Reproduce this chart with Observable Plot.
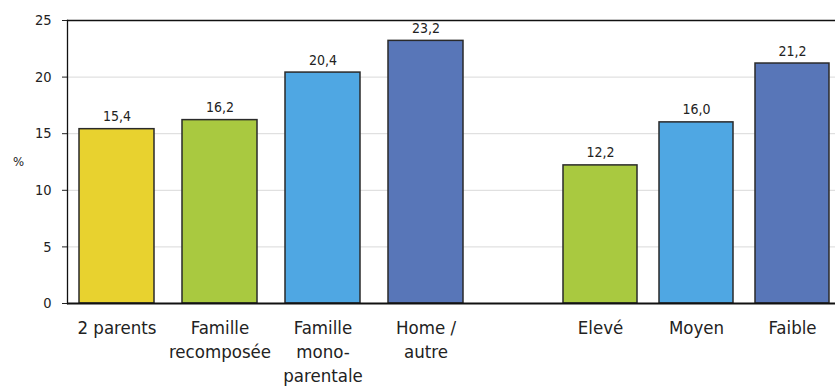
<!DOCTYPE html>
<html><head><meta charset="utf-8">
<script src="https://cdn.jsdelivr.net/npm/d3@7"></script>
<script src="https://cdn.jsdelivr.net/npm/@observablehq/plot@0.6"></script>
<style>
html,body{margin:0;padding:0;background:#fff;overflow:hidden}
#chart{display:flex;width:835px;height:389px}
#chart svg{display:block;flex:none;max-width:none}
</style></head><body><div id="chart"></div>
<script>
// Groupe 1 : type de famille
const familyCategories = ["2 parents", "Famille recomposée", "Famille monoparentale", "Home / autre"];
const familyLabels = ["2 parents", "Famille\nrecomposée", "Famille\nmono-\nparentale", "Home /\nautre"];
const familyValues = [15.4, 16.2, 20.4, 23.2];
const familyColors = ["#e8d22f", "#a9c940", "#4fa7e3", "#5876b8"];
// Groupe 2 : niveau
const levelCategories = ["Elevé", "Moyen", "Faible"];
const levelLabels = ["Elevé", "Moyen", "Faible"];
const levelValues = [12.2, 16.0, 21.2];
const levelColors = ["#a9c940", "#4fa7e3", "#5876b8"];
// Axe
const yTicks = [0, 5, 10, 15, 20, 25];
const gridTicks = [5, 10, 15, 20];
const yUnit = "%";

const FONT = "'DejaVu Sans Condensed', 'Liberation Sans Narrow', 'Roboto', sans-serif";
const fmt = v => d3.format(".1f")(v).replace(".", ",");

function panel({cats, labels, values, colors, width, marginLeft, paddingInner, paddingOuter, align, withYAxis}) {
  const data = cats.map((c, i) => ({cat: c, value: values[i]}));
  const labelOf = new Map(cats.map((c, i) => [c, labels[i]]));
  const marks = [
    Plot.ruleY(gridTicks, {stroke: "#d9d9d9", strokeWidth: 1}),
    Plot.ruleY([25], {stroke: "#111", strokeWidth: 1.3}),
    Plot.barY(data, {x: "cat", y: "value", fill: "cat", stroke: "#2a2a2a", strokeWidth: 1.5}),
    Plot.text(data, {x: "cat", y: "value", text: d => fmt(d.value), lineAnchor: "bottom", dy: -8, fontSize: 14, fill: "#222"}),
    Plot.ruleY([0], {stroke: "#111", strokeWidth: 2}),
    Plot.axisX({tickSize: 0, tickPadding: 13, fontSize: 18.5, lineHeight: 1.3, fill: "#222", tickFormat: d => labelOf.get(d), label: null})
  ];
  if (withYAxis) {
    marks.push(
      Plot.axisY({ticks: yTicks, tickSize: 5, tickPadding: 11, fontSize: 14.5, fill: "#222", label: null}),
      Plot.frame({anchor: "left", stroke: "#111", strokeWidth: 1.3}),
      Plot.text([yUnit], {text: d => d, frameAnchor: "left", textAnchor: "middle", dx: -49, fontSize: 13, fill: "#222"})
    );
  } else {
    marks.push(Plot.axisY({ticks: [], tickSize: 0, label: null}));
  }
  return Plot.plot({
    width, height: 389,
    marginTop: 20, marginBottom: 86, marginLeft, marginRight: 0,
    style: {fontFamily: FONT, background: "transparent", color: "#222"},
    x: {domain: cats, paddingInner, paddingOuter, align, label: null},
    y: {domain: [0, 25], label: null},
    color: {domain: cats, range: colors},
    marks
  });
}

const chart = document.getElementById("chart");
chart.append(panel({cats: familyCategories, labels: familyLabels, values: familyValues, colors: familyColors,
  width: 475, marginLeft: 67, paddingInner: 0.2754, paddingOuter: 0.1087, align: 0.5, withYAxis: true}));
chart.append(panel({cats: levelCategories, labels: levelLabels, values: levelValues, colors: levelColors,
  width: 360, marginLeft: 0, paddingInner: 0.2275, paddingOuter: 0.475, align: 0.936, withYAxis: false}));
</script></body></html>
